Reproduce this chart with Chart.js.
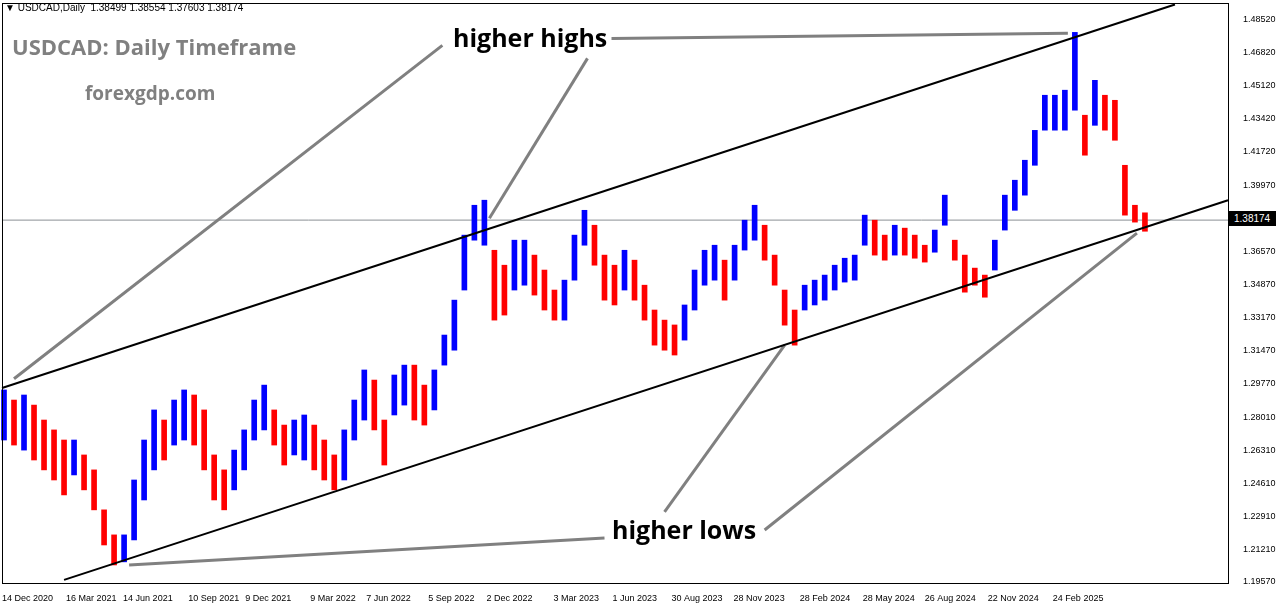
<!DOCTYPE html>
<html><head><meta charset="utf-8">
<script src="https://cdn.jsdelivr.net/npm/chart.js@4.4.1/dist/chart.umd.min.js"></script>
<style>
html,body{margin:0;padding:0;background:#fff;}
#wrap{position:relative;width:1276px;height:604px;overflow:hidden;font-family:"DejaVu Sans",sans-serif;}
canvas{position:absolute;left:0;top:0;}
.t{position:absolute;white-space:nowrap;}
</style></head><body>
<div id="wrap">
<canvas id="c" width="1276" height="604"></canvas>
<div class="t" style="left:5px;top:2px;font:10px 'Liberation Sans',sans-serif;color:#000">&#9660; USDCAD,Daily&nbsp; 1.38499 1.38554 1.37603 1.38174</div>
<div class="t" style="left:12px;top:31px;font:bold 22px 'Open Sans',sans-serif;color:#808080">USDCAD: Daily Timeframe</div>
<div class="t" style="left:85px;top:80px;font:bold 19px 'Open Sans',sans-serif;color:#808080">forexgdp.com</div>
<div class="t" style="left:453px;top:20px;font:bold 25px 'Open Sans',sans-serif;color:#000">higher highs</div>
<div class="t" style="left:612px;top:512px;font:bold 25px 'Open Sans',sans-serif;color:#000">higher lows</div>
<div class="t" style="left:1229px;top:211px;width:47px;height:15px;background:#000;color:#fff;font:10px 'Liberation Sans',sans-serif;line-height:15px;padding-left:5px;">1.38174</div>
</div>
<script>
const startDay = 5, stepDays = 10;
const highs = [1.2942,1.2890,1.2916,1.2864,1.2787,1.2736,1.2684,1.2684,1.2607,1.2530,1.2324,1.2195,1.2195,1.2478,1.2684,1.2839,1.2787,1.2890,1.2942,1.2916,1.2839,1.2607,1.2530,1.2632,1.2736,1.2890,1.2967,1.2839,1.2761,1.2787,1.2813,1.2761,1.2684,1.2607,1.2736,1.2890,1.3045,1.2993,1.2787,1.3019,1.3070,1.3070,1.2967,1.3045,1.3225,1.3405,1.3740,1.3894,1.3920,1.3662,1.3585,1.3714,1.3714,1.3637,1.3560,1.3457,1.3508,1.3740,1.3868,1.3791,1.3637,1.3585,1.3662,1.3611,1.3482,1.3354,1.3302,1.3277,1.3380,1.3560,1.3662,1.3688,1.3611,1.3688,1.3817,1.3894,1.3791,1.3637,1.3457,1.3354,1.3482,1.3508,1.3534,1.3585,1.3621,1.3637,1.3843,1.3817,1.3740,1.3791,1.3776,1.3740,1.3688,1.3766,1.3946,1.3714,1.3637,1.3570,1.3534,1.3714,1.3946,1.4023,1.4126,1.4280,1.4461,1.4461,1.4487,1.4785,1.4358,1.4538,1.4461,1.4435,1.4100,1.3894,1.3855];
const lows  = [1.2684,1.2658,1.2632,1.2581,1.2530,1.2478,1.2401,1.2504,1.2427,1.2324,1.2143,1.2040,1.2056,1.2169,1.2375,1.2530,1.2581,1.2658,1.2684,1.2658,1.2530,1.2375,1.2324,1.2427,1.2530,1.2684,1.2736,1.2658,1.2555,1.2607,1.2581,1.2530,1.2478,1.2427,1.2478,1.2684,1.2787,1.2736,1.2555,1.2813,1.2864,1.2787,1.2761,1.2839,1.3070,1.3147,1.3457,1.3714,1.3688,1.3302,1.3328,1.3457,1.3482,1.3431,1.3354,1.3302,1.3302,1.3508,1.3688,1.3585,1.3405,1.3380,1.3457,1.3405,1.3302,1.3173,1.3147,1.3122,1.3199,1.3354,1.3482,1.3508,1.3405,1.3508,1.3663,1.3714,1.3611,1.3482,1.3276,1.3173,1.3354,1.3380,1.3405,1.3457,1.3498,1.3508,1.3688,1.3637,1.3611,1.3637,1.3637,1.3621,1.3601,1.3652,1.3791,1.3611,1.3446,1.3482,1.3420,1.3560,1.3766,1.3868,1.3946,1.4100,1.4281,1.4281,1.4281,1.4384,1.4152,1.4306,1.4281,1.4229,1.3843,1.3807,1.3760];
const dateTicks = [3,67,124,189,246,311,367,429,487,554,613,672,734,800,863,925,988,1053];
const dateLabels = ["14 Dec 2020","16 Mar 2021","14 Jun 2021","10 Sep 2021","9 Dec 2021","9 Mar 2022","7 Jun 2022","5 Sep 2022","2 Dec 2022","3 Mar 2023","1 Jun 2023","30 Aug 2023","28 Nov 2023","28 Feb 2024","28 May 2024","26 Aug 2024","22 Nov 2024","24 Feb 2025"];
const priceTicks = [1.48520,1.46820,1.45120,1.43420,1.41720,1.39970,1.36570,1.34870,1.33170,1.31470,1.29770,1.28010,1.26310,1.24610,1.22910,1.21210,1.19570];
const lastClose = 1.38174;
const upperChannel = [[3,1.2952],[1175,1.4929]];
const lowerChannel = [[65,1.1963],[1228,1.3920]];
const pointerLines = [
 [[15,1.3000],[443,1.4718]], [[490,1.3827],[588,1.4651]],
 [[665,1.2313],[785,1.3173]], [[765,1.2220],[1137,1.3750]],
 [[130,1.2040],[605,1.2179]], [[612,1.4754],[1068,1.4780]]
];

const candles = highs.map((h,i)=>({x:startDay+i*stepDays, y:[lows[i],h]}));
const colors = highs.map((h,i)=>{ if(i===0) return '#0000ff'; const m=(h+lows[i])/2, p=(highs[i-1]+lows[i-1])/2; return m>=p?'#0000ff':'#ff0000';});
const toPts = a=>a.map(p=>({x:p[0],y:p[1]}));
const lineDs = (pts,color,w)=>({type:'line',data:toPts(pts),borderColor:color,borderWidth:w,pointRadius:0,fill:false,order:0,clip:false});

const frame = {id:'frame',afterDraw(c){const a=c.chartArea,x=c.ctx;x.save();x.strokeStyle='#000';x.lineWidth=1;x.strokeRect(a.left+0.5,3.5,a.right-a.left,a.bottom-3);x.restore();}};

new Chart(document.getElementById('c'),{
 type:'bar',
 data:{datasets:[
  {type:'line',data:[{x:3,y:lastClose},{x:1228,y:lastClose}],borderColor:'#8a8f94',borderWidth:1,pointRadius:0,order:3},
  {data:candles,backgroundColor:colors,barThickness:5,order:2,clip:false},
  lineDs(upperChannel,'#000',2), lineDs(lowerChannel,'#000',2),
  ...pointerLines.map(p=>lineDs(p,'#808080',3))
 ]},
 plugins:[frame],
 options:{
  responsive:false,animation:false,
  layout:{padding:{left:0,top:0,right:0,bottom:0}},
  plugins:{legend:{display:false},tooltip:{enabled:false}},
  scales:{
   x:{type:'linear',offset:false,min:3,max:1228,grid:{display:false,offset:false},border:{display:false},
      afterBuildTicks(s){s.ticks=dateTicks.map(v=>({value:v}));},
      afterFit(s){s.height=21;},
      ticks:{autoSkip:false,maxRotation:0,align:'start',padding:2,color:'#000',font:{family:'Liberation Sans',size:9},
        callback:(v)=>{const i=dateTicks.indexOf(v);return i>=0?dateLabels[i]:'';}}},
   y:{position:'right',min:1.1947,max:1.4888,grid:{display:false},border:{display:false},
      afterBuildTicks(s){s.ticks=priceTicks.map(v=>({value:v}));},
      afterFit(s){s.width=48;},
      ticks:{autoSkip:false,padding:7,color:'#000',font:{family:'Liberation Sans',size:9},callback:v=>v.toFixed(5)}}
  }
 }
});
</script>
</body></html>
